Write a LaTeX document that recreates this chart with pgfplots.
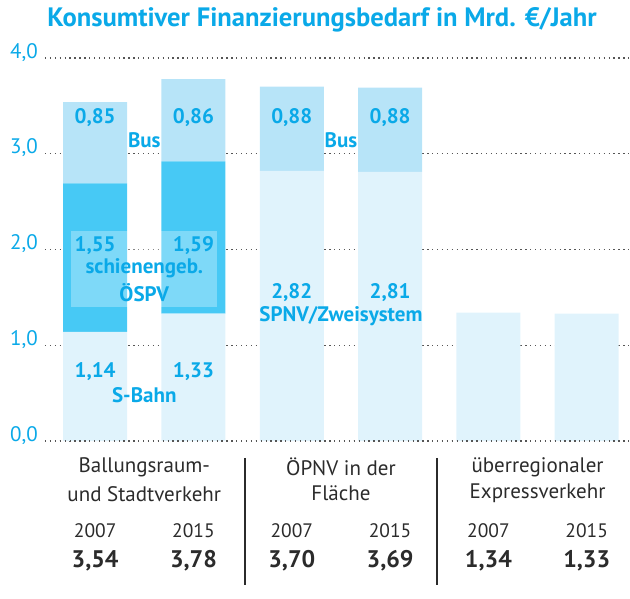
\documentclass[border=0pt]{standalone}
\usepackage{fontspec}
\setmainfont{PT Sans}
\usepackage{pgfplots}
\pgfplotsset{compat=1.18}
\definecolor{tblue}{HTML}{0AA9E8}
\definecolor{cbus}{HTML}{B7E4F8}
\definecolor{crail}{HTML}{47C9F5}
\definecolor{cbase}{HTML}{E0F3FC}
\definecolor{txt}{HTML}{2B2B2B}
\definecolor{gridc}{HTML}{555555}
\pgfplotsset{geom/.style={at={(45pt,157pt)}, anchor=south west, scale only axis,
  width=585pt, height=383pt, xmin=-0.51, xmax=5.44, ymin=0, ymax=4, clip=false}}
\begin{document}
\begin{tikzpicture}[x=1pt,y=1pt,
  lbl/.style={font=\bfseries\fontsize{21}{21}\selectfont, text=tblue, inner sep=0pt},
  cat/.style={font=\fontsize{21}{21}\selectfont, text=txt, inner sep=0pt},
  yr/.style={font=\fontsize{19.5}{19.5}\selectfont, text=txt, inner sep=0pt},
  tot/.style={font=\bfseries\fontsize{24}{24}\selectfont, text=txt, inner sep=0pt}]
\useasboundingbox (0,0) rectangle (630,598);
\begin{axis}[geom,
  ybar stacked, bar width=64pt,
  ytick={0,1,2,3,4}, xtick=\empty,
  ymajorgrids, grid style={gridc, line width=1.3pt, dash pattern=on 1.3pt off 3.6pt},
  axis line style={draw=none}, major tick length=0pt,
  /pgf/number format/assume math mode=true,
  yticklabel style={tblue, font=\fontsize{21}{21}\selectfont, anchor=base east, inner sep=0pt, xshift=-7pt,
    /pgf/number format/fixed, /pgf/number format/fixed zerofill,
    /pgf/number format/precision=1, /pgf/number format/use comma},
]
\addplot[fill=cbase, draw=none] coordinates {(0,1.14) (1,1.33) (2,2.82) (3,2.81) (4,1.34) (5,1.33)};
\addplot[fill=crail, draw=none] coordinates {(0,1.55) (1,1.59) (2,0) (3,0) (4,0) (5,0)};
\addplot[fill=cbus, draw=none] coordinates {(0,0.85) (1,0.86) (2,0.88) (3,0.88) (4,0) (5,0)};
\end{axis}
\begin{axis}[geom, hide axis]
\fill[white, opacity=0.3] (axis cs:-0.244,1.396) rectangle (axis cs:1.24,2.198);
\draw[gridc, line width=1.3pt, dash pattern=on 1.3pt off 3.6pt] (axis cs:-0.51,0) -- (axis cs:5.44,0);
% value labels
\node[lbl] at (axis cs:0,3.375) {0,85};
\node[lbl] at (axis cs:1,3.375) {0,86};
\node[lbl] at (axis cs:2,3.375) {0,88};
\node[lbl] at (axis cs:3,3.375) {0,88};
\node[lbl] at (axis cs:0.5,3.14) {Bus};
\node[lbl] at (axis cs:2.5,3.14) {Bus};
\node[lbl] at (axis cs:0,2.04) {1,55};
\node[lbl] at (axis cs:1,2.04) {1,59};
\node[lbl] at (axis cs:0.5,1.80) {schienengeb.};
\node[lbl] at (axis cs:0.5,1.55) {ÖSPV};
\node[lbl] at (axis cs:0,0.72) {1,14};
\node[lbl] at (axis cs:1,0.72) {1,33};
\node[lbl] at (axis cs:0.5,0.48) {S-Bahn};
\node[lbl] at (axis cs:2,1.55) {2,82};
\node[lbl] at (axis cs:3,1.55) {2,81};
\node[lbl] at (axis cs:2.5,1.30) {SPNV/Zweisystem};
% categories
\node[cat] at (axis cs:0.5,-0.27) {Ballungsraum-};
\node[cat] at (axis cs:0.5,-0.55) {und Stadtverkehr};
\node[cat] at (axis cs:2.5,-0.27) {ÖPNV in der};
\node[cat] at (axis cs:2.5,-0.55) {Fläche};
\node[cat] at (axis cs:4.5,-0.27) {überregionaler};
\node[cat] at (axis cs:4.5,-0.55) {Expressverkehr};
\node[yr] at (axis cs:0,-0.94) {2007};
\node[yr] at (axis cs:1,-0.94) {2015};
\node[yr] at (axis cs:2,-0.94) {2007};
\node[yr] at (axis cs:3,-0.94) {2015};
\node[yr] at (axis cs:4,-0.94) {2007};
\node[yr] at (axis cs:5,-0.94) {2015};
\node[tot] at (axis cs:0,-1.25) {3,54};
\node[tot] at (axis cs:1,-1.25) {3,78};
\node[tot] at (axis cs:2,-1.25) {3,70};
\node[tot] at (axis cs:3,-1.25) {3,69};
\node[tot] at (axis cs:4,-1.25) {1,34};
\node[tot] at (axis cs:5,-1.25) {1,33};
\draw[txt, line width=1.2pt] (axis cs:1.524,-0.177) -- (axis cs:1.524,-1.5);
\draw[txt, line width=1.2pt] (axis cs:3.476,-0.177) -- (axis cs:3.476,-1.5);
\end{axis}
\node[font=\bfseries\fontsize{26.6}{26.6}\selectfont, text=tblue, anchor=base, inner sep=0pt] at (322,571) {Konsumtiver Finanzierungsbedarf in Mrd. €/Jahr};
\end{tikzpicture}
\end{document}
